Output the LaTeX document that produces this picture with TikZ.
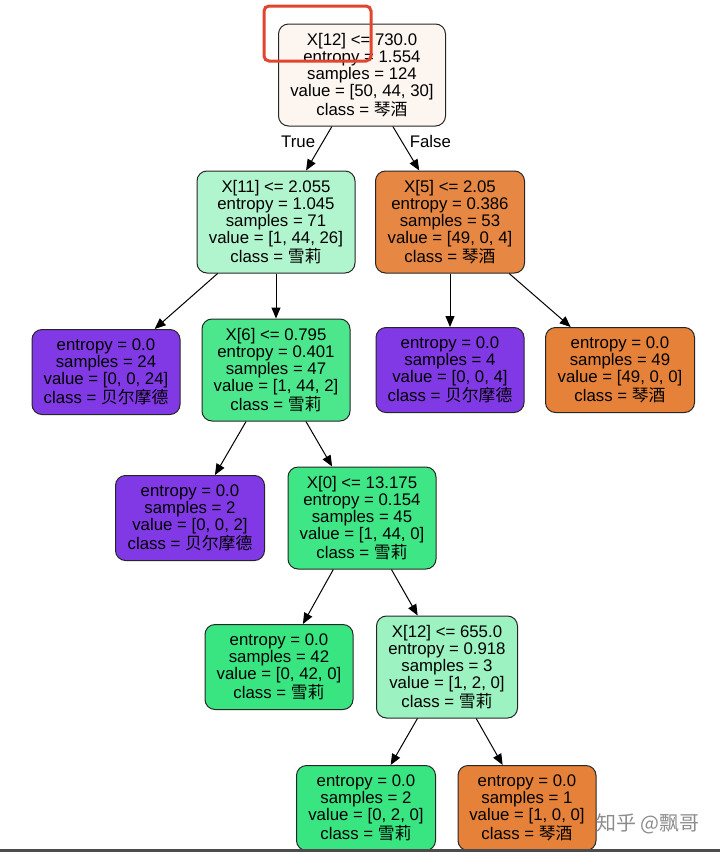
\documentclass[tikz,border=0pt]{standalone}
\usepackage{fontspec}
\setmainfont{Liberation Sans}
\newfontfamily\cjk{Noto Sans CJK SC}
\usetikzlibrary{arrows.meta}

\definecolor{rootFill}{HTML}{FDF5F0}
\definecolor{mintFill}{HTML}{B1F5CE}
\definecolor{paleGreen}{HTML}{9CF2C0}
\definecolor{midGreen}{HTML}{4CE78D}
\definecolor{deepGreen}{HTML}{3FE686}
\definecolor{pureGreen}{HTML}{39E581}
\definecolor{softOrange}{HTML}{E68743}
\definecolor{pureOrange}{HTML}{E58139}
\definecolor{purePurple}{HTML}{8139E5}
\definecolor{markRed}{HTML}{E0452E}

\begin{document}
\begin{tikzpicture}[
    x=1pt, y=-1pt,
    treenode/.style={
        draw=black!85,
        line width=1pt,
        rounded corners=10pt,
        align=center,
        inner sep=0pt,
        minimum width=148pt,
        font=\fontsize{16.8}{17}\selectfont
    },
    splitnode/.style={treenode, minimum height=102pt},
    leafnode/.style={treenode, minimum height=85pt},
    edge/.style={
        -{Triangle[length=11pt, width=9pt]},
        line width=1pt
    },
    edgelabel/.style={font=\fontsize{16.8}{17}\selectfont}
]

% Frame
\useasboundingbox (0,0) rectangle (720,852);

% Level 0
\node[splitnode, fill=rootFill, minimum width=167pt] (nRoot) at (362,75)
    {X[12] <= 730.0\\entropy = 1.554\\samples = 124\\value = [50, 44, 30]\\class = {\cjk 琴酒}};

% Level 1
\node[splitnode, fill=mintFill, minimum width=158pt] (nX11) at (276,222)
    {X[11] <= 2.055\\entropy = 1.045\\samples = 71\\value = [1, 44, 26]\\class = {\cjk 雪莉}};
\node[splitnode, fill=softOrange, minimum width=149pt] (nX5) at (450,222)
    {X[5] <= 2.05\\entropy = 0.386\\samples = 53\\value = [49, 0, 4]\\class = {\cjk 琴酒}};

% Level 2
\node[leafnode, fill=purePurple] (nLeafA) at (106,372)
    {entropy = 0.0\\samples = 24\\value = [0, 0, 24]\\class = {\cjk 贝尔摩德}};
\node[splitnode, fill=midGreen] (nX6) at (276,370)
    {X[6] <= 0.795\\entropy = 0.401\\samples = 47\\value = [1, 44, 2]\\class = {\cjk 雪莉}};
\node[leafnode, fill=purePurple] (nLeafB) at (450,370)
    {entropy = 0.0\\samples = 4\\value = [0, 0, 4]\\class = {\cjk 贝尔摩德}};
\node[leafnode, fill=pureOrange, minimum width=149pt] (nLeafC) at (620,370)
    {entropy = 0.0\\samples = 49\\value = [49, 0, 0]\\class = {\cjk 琴酒}};

% Level 3
\node[leafnode, fill=purePurple, minimum width=149pt] (nLeafD) at (190,518)
    {entropy = 0.0\\samples = 2\\value = [0, 0, 2]\\class = {\cjk 贝尔摩德}};
\node[splitnode, fill=deepGreen] (nX0) at (362,518)
    {X[0] <= 13.175\\entropy = 0.154\\samples = 45\\value = [1, 44, 0]\\class = {\cjk 雪莉}};

% Level 4
\node[leafnode, fill=pureGreen] (nLeafE) at (279,667)
    {entropy = 0.0\\samples = 42\\value = [0, 42, 0]\\class = {\cjk 雪莉}};
\node[splitnode, fill=paleGreen, minimum width=141pt] (nX12b) at (447,667)
    {X[12] <= 655.0\\entropy = 0.918\\samples = 3\\value = [1, 2, 0]\\class = {\cjk 雪莉}};

% Level 5
\node[leafnode, fill=pureGreen, minimum width=139pt] (nLeafF) at (366,808)
    {entropy = 0.0\\samples = 2\\value = [0, 2, 0]\\class = {\cjk 雪莉}};
\node[leafnode, fill=pureOrange, minimum width=138pt] (nLeafG) at (527,808)
    {entropy = 0.0\\samples = 1\\value = [1, 0, 0]\\class = {\cjk 琴酒}};

% Edges
\draw[edge] (nRoot) -- node[edgelabel, midway, left, yshift=7pt] {True} (nX11);
\draw[edge] (nRoot) -- node[edgelabel, midway, right, yshift=7pt] {False} (nX5);
\draw[edge] (nX11) -- (nLeafA);
\draw[edge] (nX11) -- (nX6);
\draw[edge] (nX5) -- (nLeafB);
\draw[edge] (nX5) -- (nLeafC);
\draw[edge] (nX6) -- (nLeafD);
\draw[edge] (nX6) -- (nX0);
\draw[edge] (nX0) -- (nLeafE);
\draw[edge] (nX0) -- (nX12b);
\draw[edge] (nX12b) -- (nLeafF);
\draw[edge] (nX12b) -- (nLeafG);

% Highlight box
\draw[markRed, line width=3pt, rounded corners=5pt] (264,6) rectangle (371,61);

% Watermark and bottom edge
\node[text=black!45, font=\cjk\fontsize{20}{22}\selectfont] (nMark) at (648,824) {知乎 @飘哥};
\draw[black!70, line width=3pt] (0,850.5) -- (720,850.5);

\end{tikzpicture}
\end{document}
